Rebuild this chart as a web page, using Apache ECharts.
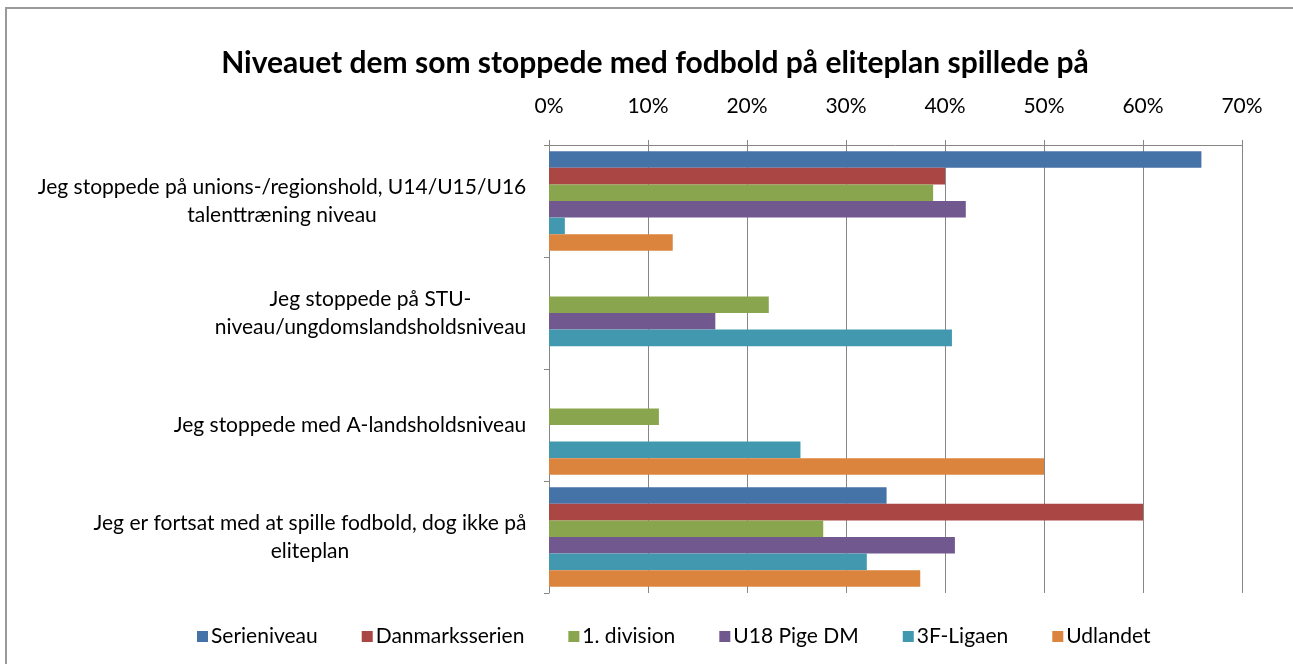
<!DOCTYPE html>
<html lang="da">
<head>
<meta charset="UTF-8">
<title>Niveauet dem som stoppede med fodbold på eliteplan spillede på</title>
<script src="https://cdn.jsdelivr.net/npm/echarts@6/dist/echarts.min.js"></script>
<style>
    html, body { margin: 0; padding: 0; background: #ffffff; }
    #frame {
        position: absolute; left: 5px; top: 7px;
        width: 1290px; height: 670px;
        border: 2px solid #9a9a9a;
        box-sizing: border-box;
    }
    #main { position: absolute; left: 0; top: 0; width: 1293px; height: 664px; }
</style>
</head>
<body>
<div id="frame"></div>
<div id="main"></div>
<script>
    var categories = [
        "Jeg stoppede på unions-/regionshold, U14/U15/U16\ntalenttræning niveau",
        "Jeg stoppede på STU-\nniveau/ungdomslandsholdsniveau",
        "Jeg stoppede med A-landsholdsniveau",
        "Jeg er fortsat med at spille fodbold, dog ikke på\neliteplan"
    ];
    var seriesNames = ["Serieniveau", "Danmarksserien", "1. division", "U18 Pige DM", "3F-Ligaen", "Udlandet"];
    var seriesColors = ["#4572A7", "#AA4643", "#89A54E", "#71588F", "#4198AF", "#DB843D"];

    // percent values, one array per series, in category order
    var serieniveau    = [65.9, 0, 0, 34.1];
    var danmarksserien = [40.0, 0, 0, 60.0];
    var division1      = [38.8, 22.2, 11.1, 27.7];
    var u18PigeDM      = [42.1, 16.8, 0, 41.0];
    var ligaen3F       = [1.6, 40.7, 25.4, 32.1];
    var udlandet       = [12.5, 0, 50.0, 37.5];
    var allValues = [serieniveau, danmarksserien, division1, u18PigeDM, ligaen3F, udlandet];

    var xMin = 0, xMax = 70, xStep = 10;

    var fontFamily = "Lato, 'Liberation Sans', sans-serif";
    var fontSize = 21;

    // lines inside each category label are centred on each other, block is right aligned
    var ctx = document.createElement('canvas').getContext('2d');
    ctx.font = fontSize + "px Lato";
    var rich = {};
    categories.forEach(function (c, i) {
        var w = 0;
        c.split('\n').forEach(function (line) {
            w = Math.max(w, ctx.measureText(line).width);
        });
        rich['c' + i] = {
            width: Math.ceil(w) + 1,
            align: 'center',
            fontSize: fontSize,
            lineHeight: 28,
            color: '#000000',
            fontFamily: fontFamily
        };
    });

    var chart = echarts.init(document.getElementById('main'));

    var series = seriesNames.map(function (name, i) {
        return {
            name: name,
            type: 'bar',
            data: allValues[i].map(function (v) { return v === 0 ? null : v; }),
            itemStyle: { color: seriesColors[i] },
            barGap: '0%',
            barCategoryGap: '11%',
            animation: false
        };
    });

    chart.setOption({
        animation: false,
        title: {
            text: 'Niveauet dem som stoppede med fodbold på eliteplan spillede på',
            left: 650,
            textAlign: 'center',
            top: 43,
            textStyle: {
                fontFamily: fontFamily,
                fontSize: 30,
                fontWeight: 'bold',
                color: '#000000'
            }
        },
        grid: {
            left: 549,
            right: 51,
            top: 145,
            bottom: 71,
            containLabel: false
        },
        legend: {
            data: seriesNames,
            left: 192,
            top: 621,
            icon: 'rect',
            itemWidth: 11,
            itemHeight: 11,
            itemGap: 44,
            textStyle: {
                fontFamily: fontFamily,
                fontSize: fontSize,
                color: '#000000',
                padding: [0, 0, 0, -2]
            }
        },
        xAxis: {
            type: 'value',
            position: 'top',
            min: xMin,
            max: xMax,
            interval: xStep,
            axisLine: { show: true, lineStyle: { color: '#868686', width: 1 } },
            axisTick: { show: true, length: 5, lineStyle: { color: '#868686' } },
            axisLabel: {
                margin: 28,
                formatter: '{value}%',
                fontFamily: fontFamily,
                fontSize: fontSize,
                color: '#000000'
            },
            splitLine: { show: true, lineStyle: { color: '#868686', width: 1 } }
        },
        yAxis: {
            type: 'category',
            data: categories,
            inverse: true,
            axisLine: { show: true, lineStyle: { color: '#868686', width: 1 } },
            axisTick: { show: true, length: 5, alignWithLabel: false, lineStyle: { color: '#868686' } },
            axisLabel: {
                margin: 22,
                align: 'right',
                formatter: function (value, index) {
                    return value.split('\n').map(function (line) {
                        return '{c' + index + '|' + line + '}';
                    }).join('\n');
                },
                rich: rich
            },
            splitLine: { show: false }
        },
        series: series
    });
</script>
</body>
</html>
